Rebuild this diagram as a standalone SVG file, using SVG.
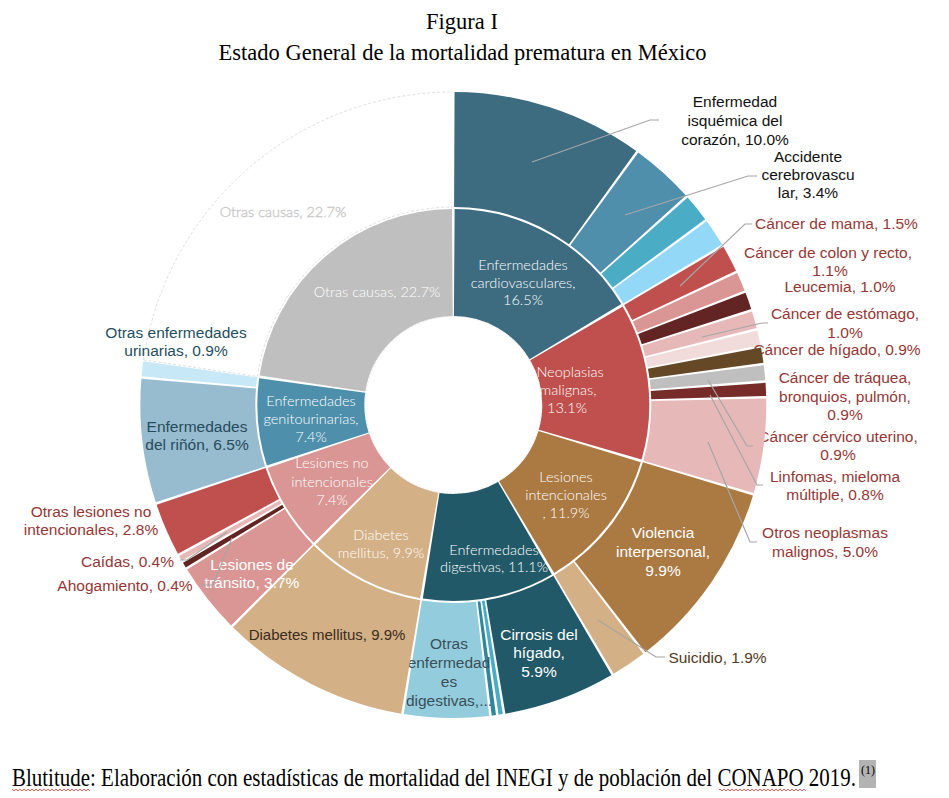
<svg xmlns="http://www.w3.org/2000/svg" width="949" height="798" viewBox="0 0 949 798">
<style>
.i{fill:none;stroke-width:107}
.o{fill:none;stroke-width:115}
.ttl{font-family:"Liberation Serif","Times New Roman",serif;font-size:22.5px;fill:#000;text-anchor:middle}
.ft{font-family:"Liberation Serif","Times New Roman",serif;fill:#000}
.lab{font-family:"Liberation Sans",Arial,sans-serif;font-size:15.5px;text-anchor:middle}
.in{font-family:Lato,"Open Sans",sans-serif;font-size:14.5px;font-weight:300;fill:#fff;text-anchor:middle}
.blk{fill:#111}
.red{fill:#953735}
.ld{fill:none;stroke:#a6a6a6;stroke-width:1.2}
</style>
<defs>
<pattern id="wavy" width="4" height="4" patternUnits="userSpaceOnUse"><path d="M0,1 L2,3 L4,1" fill="none" stroke="#e03a3a" stroke-width="0.8"/></pattern>
</defs>
<rect width="949" height="798" fill="#fff"/>

<g id="title">
<text class="ttl" x="462" y="29">Figura I</text>
<text class="ttl" x="462.5" y="60">Estado General de la mortalidad prematura en México</text>
</g>

<g id="hole">
<circle cx="453.3" cy="405" r="88.4" fill="#fff" stroke="#e2e2e2" stroke-width="0.7" stroke-dasharray="2 2"/>
</g>

<g id="otras-causas-outer">
<circle class="o" r="255.5" transform="translate(453.3 405) rotate(-90)" pathLength="100" stroke="#ffffff" stroke-dasharray="22.57 100" stroke-dashoffset="-77.365"/>
<path d="M143.56,359.93 A313,313 0 0 1 453.3,92 M257.37,376.49 A198,198 0 0 1 453.3,207 M143.56,359.93 L257.37,376.49" fill="none" stroke="#d6d6d6" stroke-width="0.8" stroke-dasharray="3 2"/>
<text class="in" x="283" y="217" style="stroke:#c4c4c4;stroke-width:0.5">Otras causas, 22.7%</text>
</g>

<!-- inner ring -->
<g id="cardiovasculares">
<circle class="i" r="142.5" transform="translate(453.3 405) rotate(-90)" pathLength="100" stroke="#3d6b80" stroke-dasharray="16.28 100" stroke-dashoffset="-0.11"/>
<text class="in"><tspan x="523" y="270">Enfermedades</tspan><tspan x="523" y="288">cardiovasculares,</tspan><tspan x="523" y="305">16.5%</tspan></text>
</g>
<g id="neoplasias">
<circle class="i" r="142.5" transform="translate(453.3 405) rotate(-90)" pathLength="100" stroke="#c0504d" stroke-dasharray="12.88 100" stroke-dashoffset="-16.61"/>
<text class="in"><tspan x="570" y="377">Neoplasias</tspan><tspan x="568" y="395">malignas,</tspan><tspan x="567" y="413">13.1%</tspan></text>
</g>
<g id="lesiones-intencionales">
<circle class="i" r="142.5" transform="translate(453.3 405) rotate(-90)" pathLength="100" stroke="#ab7942" stroke-dasharray="11.68 100" stroke-dashoffset="-29.71"/>
<text class="in"><tspan x="566" y="482">Lesiones</tspan><tspan x="566" y="500">intencionales</tspan><tspan x="566" y="518">, 11.9%</tspan></text>
</g>
<g id="digestivas">
<circle class="i" r="142.5" transform="translate(453.3 405) rotate(-90)" pathLength="100" stroke="#215968" stroke-dasharray="10.88 100" stroke-dashoffset="-41.61"/>
<text class="in"><tspan x="494" y="555">Enfermedades</tspan><tspan x="494" y="572">digestivas, 11.1%</tspan></text>
</g>
<g id="diabetes">
<circle class="i" r="142.5" transform="translate(453.3 405) rotate(-90)" pathLength="100" stroke="#d3b086" stroke-dasharray="9.68 100" stroke-dashoffset="-52.71"/>
<text class="in"><tspan x="381" y="540">Diabetes</tspan><tspan x="381" y="558">mellitus, 9.9%</tspan></text>
</g>
<g id="lesiones-no-intencionales">
<circle class="i" r="142.5" transform="translate(453.3 405) rotate(-90)" pathLength="100" stroke="#d99694" stroke-dasharray="7.18 100" stroke-dashoffset="-62.61"/>
<text class="in"><tspan x="332" y="468">Lesiones no</tspan><tspan x="332" y="487">intencionales</tspan><tspan x="332" y="505">7.4%</tspan></text>
</g>
<g id="genitourinarias">
<circle class="i" r="142.5" transform="translate(453.3 405) rotate(-90)" pathLength="100" stroke="#4e8fab" stroke-dasharray="7.18 100" stroke-dashoffset="-70.01"/>
<text class="in"><tspan x="311" y="406">Enfermedades</tspan><tspan x="311" y="424">genitourinarias,</tspan><tspan x="311" y="442">7.4%</tspan></text>
</g>
<g id="otras-causas">
<circle class="i" r="142.5" transform="translate(453.3 405) rotate(-90)" pathLength="100" stroke="#bfbfbf" stroke-dasharray="22.48 100" stroke-dashoffset="-77.41"/>
<text class="in" x="377" y="297">Otras causas, 22.7%</text>
</g>

<!-- outer ring -->
<g id="isquemica">
<circle class="o" r="255.5" transform="translate(453.3 405) rotate(-90)" pathLength="100" stroke="#3d6b80" stroke-dasharray="9.87 100" stroke-dashoffset="-0.065"/>
<text class="lab blk"><tspan x="735" y="107">Enfermedad</tspan><tspan x="735" y="126">isquémica del</tspan><tspan x="735" y="145">corazón, 10.0%</tspan></text>
</g>
<g id="cerebrovascular">
<circle class="o" r="255.5" transform="translate(453.3 405) rotate(-90)" pathLength="100" stroke="#4f8fab" stroke-dasharray="3.27 100" stroke-dashoffset="-10.065"/>
<text class="lab blk"><tspan x="808" y="162">Accidente</tspan><tspan x="808" y="180">cerebrovascu</tspan><tspan x="808" y="198">lar, 3.4%</tspan></text>
</g>
<g id="cardio-otras-1">
<circle class="o" r="255.5" transform="translate(453.3 405) rotate(-90)" pathLength="100" stroke="#4bacc6" stroke-dasharray="1.42 100" stroke-dashoffset="-13.465"/>
</g>
<g id="cardio-otras-2">
<circle class="o" r="255.5" transform="translate(453.3 405) rotate(-90)" pathLength="100" stroke="#93d8f7" stroke-dasharray="1.42 100" stroke-dashoffset="-15.015"/>
</g>
<g id="cancer-mama">
<circle class="o" r="255.5" transform="translate(453.3 405) rotate(-90)" pathLength="100" stroke="#c0504d" stroke-dasharray="1.37 100" stroke-dashoffset="-16.565"/>
<text class="lab red" x="836.5" y="229">Cáncer de mama, 1.5%</text>
</g>
<g id="cancer-colon">
<circle class="o" r="255.5" transform="translate(453.3 405) rotate(-90)" pathLength="100" stroke="#d99694" stroke-dasharray="0.97 100" stroke-dashoffset="-18.065"/>
<text class="lab red"><tspan x="828" y="258">Cáncer de colon y recto,</tspan><tspan x="830" y="276">1.1%</tspan></text>
</g>
<g id="leucemia">
<circle class="o" r="255.5" transform="translate(453.3 405) rotate(-90)" pathLength="100" stroke="#632523" stroke-dasharray="0.87 100" stroke-dashoffset="-19.165"/>
<text class="lab red" x="840" y="292">Leucemia, 1.0%</text>
</g>
<g id="cancer-estomago">
<circle class="o" r="255.5" transform="translate(453.3 405) rotate(-90)" pathLength="100" stroke="#e6b9b8" stroke-dasharray="0.87 100" stroke-dashoffset="-20.165"/>
<text class="lab red"><tspan x="845" y="319">Cáncer de estómago,</tspan><tspan x="845" y="338">1.0%</tspan></text>
</g>
<g id="cancer-higado">
<circle class="o" r="255.5" transform="translate(453.3 405) rotate(-90)" pathLength="100" stroke="#f2dcdb" stroke-dasharray="0.77 100" stroke-dashoffset="-21.165"/>
<text class="lab red" x="837" y="355">Cáncer de hígado, 0.9%</text>
</g>
<g id="cancer-traquea">
<circle class="o" r="255.5" transform="translate(453.3 405) rotate(-90)" pathLength="100" stroke="#654826" stroke-dasharray="0.77 100" stroke-dashoffset="-22.065"/>
<text class="lab red"><tspan x="845" y="383">Cáncer de tráquea,</tspan><tspan x="845" y="402">bronquios, pulmón,</tspan><tspan x="845" y="420">0.9%</tspan></text>
</g>
<g id="cancer-cervico">
<circle class="o" r="255.5" transform="translate(453.3 405) rotate(-90)" pathLength="100" stroke="#bfbfbf" stroke-dasharray="0.77 100" stroke-dashoffset="-22.965"/>
<text class="lab red"><tspan x="838" y="442">Cáncer cérvico uterino,</tspan><tspan x="838" y="460">0.9%</tspan></text>
</g>
<g id="linfomas">
<circle class="o" r="255.5" transform="translate(453.3 405) rotate(-90)" pathLength="100" stroke="#772c2a" stroke-dasharray="0.67 100" stroke-dashoffset="-23.865"/>
<text class="lab red"><tspan x="835" y="482">Linfomas, mieloma</tspan><tspan x="835" y="500">múltiple, 0.8%</tspan></text>
</g>
<g id="otros-neoplasmas">
<circle class="o" r="255.5" transform="translate(453.3 405) rotate(-90)" pathLength="100" stroke="#e6b9b8" stroke-dasharray="4.87 100" stroke-dashoffset="-24.665"/>
<text class="lab red"><tspan x="825" y="538">Otros neoplasmas</tspan><tspan x="825" y="557">malignos, 5.0%</tspan></text>
</g>
<g id="violencia">
<circle class="o" r="255.5" transform="translate(453.3 405) rotate(-90)" pathLength="100" stroke="#ab7942" stroke-dasharray="9.82 100" stroke-dashoffset="-29.665"/>
<text class="lab" fill="#fff"><tspan x="663" y="538">Violencia</tspan><tspan x="663" y="557">interpersonal,</tspan><tspan x="663" y="576">9.9%</tspan></text>
</g>
<g id="suicidio">
<circle class="o" r="255.5" transform="translate(453.3 405) rotate(-90)" pathLength="100" stroke="#d3b086" stroke-dasharray="1.82 100" stroke-dashoffset="-39.615"/>
<text class="lab" fill="#523a22" x="717.5" y="663">Suicidio, 1.9%</text>
</g>
<g id="cirrosis">
<circle class="o" r="255.5" transform="translate(453.3 405) rotate(-90)" pathLength="100" stroke="#215968" stroke-dasharray="5.77 100" stroke-dashoffset="-41.565"/>
<text class="lab" fill="#fff"><tspan x="539" y="640">Cirrosis del</tspan><tspan x="539" y="658">hígado,</tspan><tspan x="539" y="677">5.9%</tspan></text>
</g>
<g id="digestivas-2">
<circle class="o" r="255.5" transform="translate(453.3 405) rotate(-90)" pathLength="100" stroke="#4bacc6" stroke-dasharray="0.22 100" stroke-dashoffset="-47.465"/>
</g>
<g id="digestivas-3">
<circle class="o" r="255.5" transform="translate(453.3 405) rotate(-90)" pathLength="100" stroke="#31859c" stroke-dasharray="0.22 100" stroke-dashoffset="-47.815"/>
</g>
<g id="otras-digestivas">
<circle class="o" r="255.5" transform="translate(453.3 405) rotate(-90)" pathLength="100" stroke="#93cddd" stroke-dasharray="4.37 100" stroke-dashoffset="-48.165"/>
<text class="lab" fill="#3a4f58"><tspan x="449" y="649">Otras</tspan><tspan x="449" y="668">enfermedad</tspan><tspan x="449" y="687">es</tspan><tspan x="449" y="706">digestivas,...</tspan></text>
</g>
<g id="diabetes-mellitus">
<circle class="o" r="255.5" transform="translate(453.3 405) rotate(-90)" pathLength="100" stroke="#d3b086" stroke-dasharray="9.77 100" stroke-dashoffset="-52.665"/>
<text class="lab" fill="#3b2c1c" x="327" y="640" style="font-size:15px">Diabetes mellitus, 9.9%</text>
</g>
<g id="transito">
<circle class="o" r="255.5" transform="translate(453.3 405) rotate(-90)" pathLength="100" stroke="#d99694" stroke-dasharray="3.62 100" stroke-dashoffset="-62.565"/>
<text class="lab" fill="#fff"><tspan x="252" y="570">Lesiones de</tspan><tspan x="252" y="588">tránsito, 3.7%</tspan></text>
</g>
<g id="ahogamiento">
<circle class="o" r="255.5" transform="translate(453.3 405) rotate(-90)" pathLength="100" stroke="#632523" stroke-dasharray="0.27 100" stroke-dashoffset="-66.315"/>
<text class="lab red" x="125" y="591">Ahogamiento, 0.4%</text>
</g>
<g id="caidas">
<circle class="o" r="255.5" transform="translate(453.3 405) rotate(-90)" pathLength="100" stroke="#e6b9b8" stroke-dasharray="0.27 100" stroke-dashoffset="-66.715"/>
<text class="lab red" x="127.5" y="567">Caídas, 0.4%</text>
</g>
<g id="otras-lesiones">
<circle class="o" r="255.5" transform="translate(453.3 405) rotate(-90)" pathLength="100" stroke="#c0504d" stroke-dasharray="2.72 100" stroke-dashoffset="-67.115"/>
<text class="lab red"><tspan x="91" y="517">Otras lesiones no</tspan><tspan x="91" y="535">intencionales, 2.8%</tspan></text>
</g>
<g id="rinon">
<circle class="o" r="255.5" transform="translate(453.3 405) rotate(-90)" pathLength="100" stroke="#98bccf" stroke-dasharray="6.37 100" stroke-dashoffset="-69.965"/>
<text class="lab" fill="#254b5c"><tspan x="197" y="432">Enfermedades</tspan><tspan x="197" y="450">del riñón, 6.5%</tspan></text>
</g>
<g id="otras-urinarias">
<circle class="o" r="255.5" transform="translate(453.3 405) rotate(-90)" pathLength="100" stroke="#c6e8f7" stroke-dasharray="0.77 100" stroke-dashoffset="-76.465"/>
<text class="lab" fill="#1f4e60"><tspan x="176" y="338">Otras enfermedades</tspan><tspan x="176" y="356">urinarias, 0.9%</tspan></text>
</g>

<!-- leader lines -->
<g id="connectors" class="ld">
<path d="M532,162 L650,120 L659,120"/>
<path d="M625,215 L748,176 L757,176"/>
<path d="M680,286 L745,224 L752,224"/>
<path d="M702,337 L762,323 L768,323"/>
<path d="M708,380 L747,446 L753,446"/>
<path d="M710,395 L757,485 L763,485"/>
<path d="M708,442 L750,542 L757,542"/>
<path d="M598,620 L656,657 L665,657"/>
<path d="M227,532 L187,560 L180,560"/>
<path d="M232,538 L213,585 L201,585"/>
</g>

<g id="footer">
<text class="ft" transform="translate(12 786) scale(1 1.18)" x="0" y="0" style="font-size:21px" textLength="844" lengthAdjust="spacingAndGlyphs">Blutitude: Elaboración con estadísticas de mortalidad del INEGI y de población del CONAPO 2019.</text>
<rect x="859" y="760" width="17" height="28" fill="#b3b3b3"/>
<text class="ft" x="861" y="774" style="font-size:12px">(1)</text>
<rect x="12" y="788" width="78" height="4" fill="url(#wavy)"/>
<rect x="719" y="788" width="87" height="4" fill="url(#wavy)"/>
</g>
</svg>
